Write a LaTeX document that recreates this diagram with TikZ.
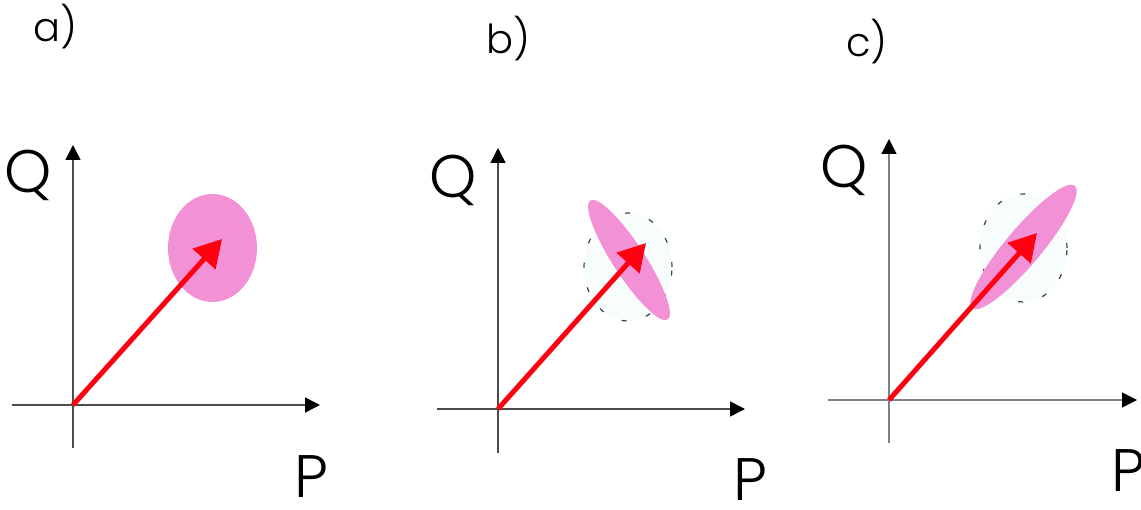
\documentclass[tikz,border=0pt]{standalone}
\usepackage{fontspec}
\setmainfont{Poppins Light}
\usetikzlibrary{arrows.meta}
\definecolor{cpink}{HTML}{F291D6}
\definecolor{cred}{HTML}{FF0010}
\definecolor{chalo}{HTML}{F7FCFC}

\begin{document}
\begin{tikzpicture}[
  x=0.5pt,y=0.5pt,
  axis/.style={line width=0.75pt,-{Triangle[length=7.5pt,width=7.5pt,black]}},
  vec/.style={line width=2.5pt,cred,-{Triangle[length=13.5pt,width=15pt]}},
  spot/.style={fill=cpink},
  halo/.style={draw=black!75,fill=chalo,line width=0.6pt,dash pattern=on 2.5pt off 10pt},
  panel/.style={font=\fontsize{20}{22}\selectfont,inner sep=0pt},
  varname/.style={font=\fontsize{30}{32}\selectfont,inner sep=0pt}]
  \useasboundingbox (0,0) rectangle (1141,509);
  % panel a
  \coordinate (Oa) at (73,104);
  \coordinate (Xa0) at (12,104);  \coordinate (Xa1) at (320,104);
  \coordinate (Ya0) at (73,61);   \coordinate (Ya1) at (73,364);
  \coordinate (Ca) at (212.5,261);
  \coordinate (Ta) at (222,270);
  \node[panel] (laba) at (55,482) {a)};
  \node[varname] (Qa) at (28,334) {Q};
  \node[varname] (Pa) at (311,32) {P};
  \draw[axis,black!70] (Xa0) -- (Xa1);
  \draw[axis,black!70] (Ya0) -- (Ya1);
  \fill[spot] (Ca) ellipse [x radius=44.5,y radius=54];
  \draw[vec] (Oa) -- (Ta);
  % panel b
  \coordinate (Ob) at (498,100);
  \coordinate (Xb0) at (437,100); \coordinate (Xb1) at (745,100);
  \coordinate (Yb0) at (498,56);  \coordinate (Yb1) at (498,361);
  \coordinate (Hb) at (628,242);
  \coordinate (Cb) at (629,249);
  \coordinate (Tb) at (646,266);
  \node[panel] (labb) at (508,470) {b)};
  \node[varname] (Qb) at (453,329) {Q};
  \node[varname] (Pb) at (750,29) {P};
  \draw[axis,black!70] (Xb0) -- (Xb1);
  \draw[axis,black!70] (Yb0) -- (Yb1);
  \draw[halo] (Hb) ellipse [x radius=44,y radius=54];
  \fill[spot,rotate around={-57:(Cb)}] (Cb) ellipse [x radius=71,y radius=16];
  \draw[vec] (Ob) -- (Tb);
  % panel c
  \coordinate (Oc) at (889,109);
  \coordinate (Xc0) at (828,109); \coordinate (Xc1) at (1137,109);
  \coordinate (Yc0) at (889,66);  \coordinate (Yc1) at (889,370);
  \coordinate (Hc) at (1023.5,261);
  \coordinate (Cc) at (1023.5,262);
  \coordinate (Tc) at (1037,276);
  \node[panel] (labc) at (867,467) {c)};
  \node[varname] (Qc) at (844,339) {Q};
  \node[varname] (Pc) at (1128,38) {P};
  \draw[axis,black!50] (Xc0) -- (Xc1);
  \draw[axis,black!50] (Yc0) -- (Yc1);
  \draw[halo] (Hc) ellipse [x radius=43.5,y radius=54];
  \fill[spot,rotate around={50:(Cc)}] (Cc) ellipse [x radius=80,y radius=18];
  \draw[vec] (Oc) -- (Tc);
\end{tikzpicture}
\end{document}
